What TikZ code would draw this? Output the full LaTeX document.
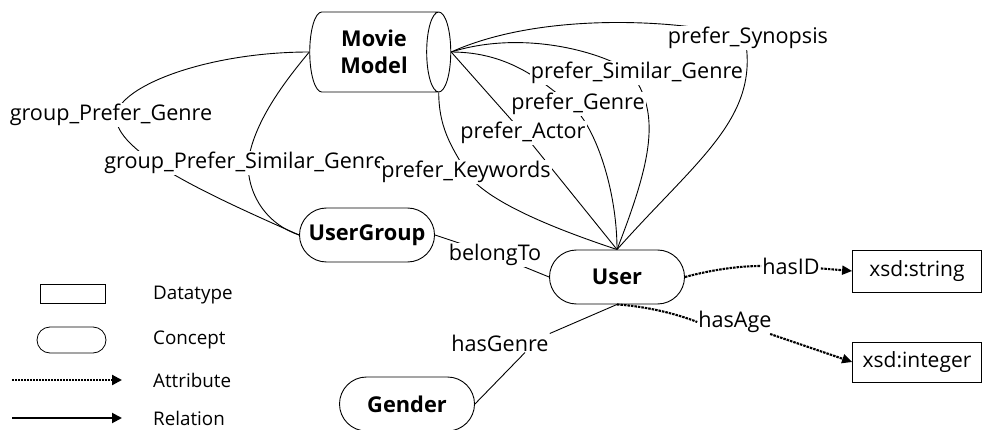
\documentclass[tikz,border=0pt]{standalone}
\usepackage{fontspec}
\setmainfont{Open Sans}
\usetikzlibrary{shapes.geometric,shapes.misc,backgrounds,arrows.meta}
\begin{document}
\begin{tikzpicture}[x=1pt,y=-1pt,
  lbl/.style={font=\fontsize{21.6}{23}\selectfont, fill=white, inner sep=1pt},
  legtxt/.style={font=\fontsize{18.8}{20}\selectfont, anchor=west, inner sep=0pt},
  concept/.style={draw, rounded rectangle, fill=white, line width=0.9pt, minimum width=135pt, minimum height=54pt, inner sep=0pt, font=\bfseries\fontsize{21.8}{23}\selectfont},
  dtype/.style={draw, rectangle, fill=white, line width=0.8pt, minimum width=129pt, minimum height=42pt, inner sep=0pt, font=\fontsize{21}{23}\selectfont},
  cyl/.style={draw, cylinder, shape border rotate=0, aspect=0.55, fill=white, line width=0.9pt, minimum width=80pt, minimum height=141pt, inner sep=0pt, align=center, font=\bfseries\fontsize{21.8}{27}\selectfont},
  rel/.style={line width=0.9pt},
  attr/.style={line width=2.1pt, dash pattern=on 2.5pt off 1pt},
  tip/.style={-{Triangle[length=10pt,width=9pt]}}
]
\useasboundingbox (0,0) rectangle (982,430);

% concepts
\node[cyl] (MM) at (374,52) {Movie\\Model};
\node[concept] (UG) at (367,235) {UserGroup};
\node[concept] (U) at (617,277) {User};
\node[concept] (G) at (407,404) {Gender};
\node[dtype] (S) at (917,271) {xsd:string};
\node[dtype, minimum height=40pt] (I) at (917,362) {xsd:integer};

% labels
\node[lbl] (LgPG) at (111,115) {group\_Prefer\_Genre};
\node[lbl] (LgPSG) at (245,163) {group\_Prefer\_Similar\_Genre};
\node[lbl] (Lkw) at (466,172) {prefer\_Keywords};
\node[lbl] (Lact) at (523,133) {prefer\_Actor};
\node[lbl] (Lgen) at (578,104) {prefer\_Genre};
\node[lbl] (Lsim) at (637,73) {prefer\_Similar\_Genre};
\node[lbl] (Lsyn) at (748,38) {prefer\_Synopsis};
\node[lbl] (Lbel) at (495,255) {belongTo};
\node[lbl] (Lid) at (791,266) {hasID};
\node[lbl] (Lage) at (735,322) {hasAge};
\node[lbl] (Lhg) at (500,343) {hasGenre};

\begin{scope}[on background layer]
\draw[rel] (MM.west) .. controls +(-100,0) and +(5,-30) .. ([xshift=5pt]LgPG.center)
  .. controls +(-3,37) and +(-90,-40) .. (UG.west);
\draw[rel] (MM.west) .. controls +(-25,30) and +(5,-40) .. ([xshift=3pt]LgPSG.center)
  .. controls +(0,35) and +(-30,-10) .. (UG.west);
\draw[rel] (MM.east) .. controls +(100,-45) and +(-40,-15) .. ([xshift=-3pt]Lsyn.center)
  .. controls +(15,80) and +(80,-90) .. (U.north);
\draw[rel] (MM.east) .. controls +(80,-25) and +(-15,-15) .. ([xshift=-6pt]Lsim.center)
  .. controls +(30,40) and +(35,-90) .. (U.north);
\draw[rel] (MM.east) .. controls +(60,0) and +(-25,-20) .. ([xshift=-8pt]Lgen.center)
  .. controls +(25,20) and +(0,-60) .. (U.north);
\draw[rel] (MM.east) -- (Lact.center) -- (U.north);
\draw[rel] (MM.-32) .. controls +(0,40) and +(-10,-20) .. (Lkw.center)
  .. controls +(20,30) and +(-60,-20) .. (U.north);
\draw[rel] (UG.east) -- (Lbel.center) -- (U.west);
\end{scope}

\draw[attr] (U.east) .. controls +(30,-8) and +(-20,0) .. (Lid.west);
\draw[attr, tip] (Lid) -- (S.west);
\draw[attr] (U.south) .. controls +(30,2) and +(-20,-8) .. (Lage.west);
\draw[attr, tip] (Lage) -- (I.west);
\draw[rel] (U.south) -- (Lhg.north east);
\draw[rel] ([xshift=25pt]Lhg.south) -- (G.east);

% legend
\node[draw, rectangle, line width=0.8pt, minimum width=65pt, minimum height=19pt, inner sep=0pt] (legD) at (72.5,293.5) {};
\node[draw, rounded rectangle, line width=0.8pt, minimum width=69pt, minimum height=26pt, inner sep=0pt] (legC) at (71.5,340) {};
\node[legtxt] (tD) at (153,295) {Datatype};
\node[legtxt] (tC) at (153,340) {Concept};
\node[legtxt] (tA) at (153,380) {Attribute};
\node[legtxt] (tR) at (153,418) {Relation};
\coordinate (a1) at (12,380);
\coordinate (a2) at (122,380);
\coordinate (r1) at (12,418);
\coordinate (r2) at (122,418);
\draw[line width=2.2pt, dash pattern=on 2pt off 1pt, -{Triangle[length=10pt,width=10pt]}] (a1) -- (a2);
\draw[line width=2pt, -{Triangle[length=10pt,width=10pt]}] (r1) -- (r2);
\end{tikzpicture}
\end{document}
